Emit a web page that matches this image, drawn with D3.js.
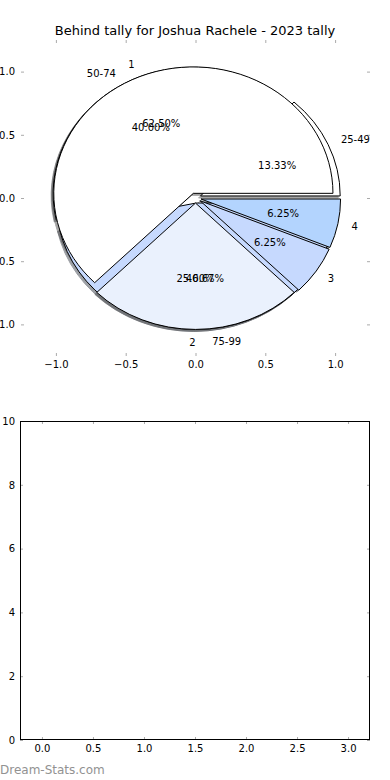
<!DOCTYPE html>
<html>
<head>
<meta charset="utf-8">
<script src="https://cdn.jsdelivr.net/npm/d3@7"></script>
<style>
  body { margin: 0; background: #fff; }
  text { font-family: "DejaVu Sans", sans-serif; }
</style>
</head>
<body>
<svg id="chart" width="390" height="780"></svg>
<script>
var tallyLabels = ['1', '2', '3', '4'];
var tallyValues = [10, 4, 1, 1];
var rangeLabels = ['25-49', '50-74', '75-99'];
var rangeValues = [2, 6, 7];
var sliceColors = ['#ffffff', '#eaf1fd', '#c6d9fe', '#b3d4fe'];
var pieTicks = [-1, -0.5, 0, 0.5, 1];
var barXTicks = [0, 0.5, 1, 1.5, 2, 2.5, 3];
var barYTicks = [0, 2, 4, 6, 8, 10];

var svg = d3.select('#chart');
var explode = 0.04;

// top axes (pie), matplotlib style limits -1.25..1.25
var xs = d3.scaleLinear().domain([-1.25, 1.25]).range([21, 370]);
var ys = d3.scaleLinear().domain([-1.25, 1.25]).range([356, 40]);
var kx = xs(1) - xs(0), ky = ys(0) - ys(1);

svg.append('text')
  .attr('x', 195).attr('y', 34.5)
  .attr('text-anchor', 'middle')
  .style('font-size', '13px')
  .text('Behind tally for Joshua Rachele - 2023 tally');

function styleTicks(g) {
  g.select('.domain').remove();
  g.selectAll('.tick line').attr('stroke', '#aaa');
  g.selectAll('.tick text').attr('fill', '#000').style('font-size', '10px')
    .style('font-family', '"DejaVu Sans", sans-serif');
}

svg.append('g').attr('transform', 'translate(0,40)')
  .call(d3.axisTop(xs).tickValues(pieTicks).tickSize(-3).tickFormat(''))
  .call(styleTicks);
svg.append('g').attr('transform', 'translate(0,356)')
  .call(d3.axisBottom(xs).tickValues(pieTicks).tickSize(-3).tickPadding(5).tickFormat(d3.format('.1f')))
  .call(styleTicks);
svg.append('g').attr('transform', 'translate(21,0)')
  .call(d3.axisLeft(ys).tickValues(pieTicks).tickSize(-3).tickPadding(6).tickFormat(d3.format('.1f')))
  .call(styleTicks);
svg.append('g').attr('transform', 'translate(370,0)')
  .call(d3.axisRight(ys).tickValues(pieTicks).tickSize(-3).tickFormat(''))
  .call(styleTicks);

var pie = d3.pie().sort(null)
  .startAngle(Math.PI / 2)
  .endAngle(Math.PI / 2 - 2 * Math.PI);
var arc = d3.arc().innerRadius(0).outerRadius(1);

var shadowLayer = svg.append('g');
var wedgeLayer = svg.append('g');
var textLayer = svg.append('g');

function drawPie(values, labels) {
  var total = d3.sum(values);
  var arcs = pie(values);
  arcs.forEach(function(d, i) {
    var m = (d.startAngle + d.endAngle) / 2;
    var ux = Math.sin(m), uy = Math.cos(m);
    var cx = explode * ux, cy = explode * uy;
    var col = d3.color(sliceColors[i]);
    var dark = d3.rgb(col.r * 0.3, col.g * 0.3, col.b * 0.3);

    shadowLayer.append('path')
      .attr('d', arc(d))
      .attr('transform', 'translate(' + (xs(cx) - 2) + ',' + (ys(cy) + 2) + ') scale(' + kx + ',' + ky + ')')
      .attr('fill', dark).attr('stroke', dark)
      .attr('vector-effect', 'non-scaling-stroke')
      .attr('opacity', 0.5);

    wedgeLayer.append('path')
      .attr('d', arc(d))
      .attr('transform', 'translate(' + xs(cx) + ',' + ys(cy) + ') scale(' + kx + ',' + ky + ')')
      .attr('fill', sliceColors[i])
      .attr('stroke', '#000').attr('stroke-width', 1)
      .attr('vector-effect', 'non-scaling-stroke');

    var lx = cx + 1.1 * ux, ly = cy + 1.1 * uy;
    textLayer.append('text')
      .attr('x', xs(lx)).attr('y', ys(ly)).attr('dy', '0.35em')
      .attr('text-anchor', lx > 0 ? 'start' : 'end')
      .style('font-size', '10px')
      .text(labels[i]);

    var px = cx + 0.6 * ux, py = cy + 0.6 * uy;
    textLayer.append('text')
      .attr('x', xs(px)).attr('y', ys(py)).attr('dy', '0.35em')
      .attr('text-anchor', 'middle')
      .style('font-size', '10px')
      .text((values[i] / total * 100).toFixed(2) + '%');
  });
}

drawPie(rangeValues, rangeLabels);
drawPie(tallyValues, tallyLabels);

// bottom axes, empty
var bx = d3.scaleLinear().domain([-0.215, 3.215]).range([20, 370]);
var by = d3.scaleLinear().domain([0, 10]).range([740, 421]);

svg.append('g').attr('transform', 'translate(0,740)')
  .call(d3.axisBottom(bx).tickValues(barXTicks).tickSize(-3).tickPadding(5).tickFormat(d3.format('.1f')))
  .call(styleTicks);
svg.append('g').attr('transform', 'translate(0,421)')
  .call(d3.axisTop(bx).tickValues(barXTicks).tickSize(-3).tickFormat(''))
  .call(styleTicks);
svg.append('g').attr('transform', 'translate(20,0)')
  .call(d3.axisLeft(by).tickValues(barYTicks).tickSize(-3).tickPadding(5).tickFormat(d3.format('d')))
  .call(styleTicks);
svg.append('g').attr('transform', 'translate(370,0)')
  .call(d3.axisRight(by).tickValues(barYTicks).tickSize(-3).tickFormat(''))
  .call(styleTicks);

svg.append('rect')
  .attr('x', 20.5).attr('y', 421.5)
  .attr('width', 349).attr('height', 318)
  .attr('fill', 'none').attr('stroke', '#000').attr('stroke-width', 1);

svg.append('text')
  .attr('x', 0).attr('y', 774)
  .attr('fill', '#929292')
  .style('font-size', '12px')
  .text('Dream-Stats.com');
</script>
</body>
</html>
